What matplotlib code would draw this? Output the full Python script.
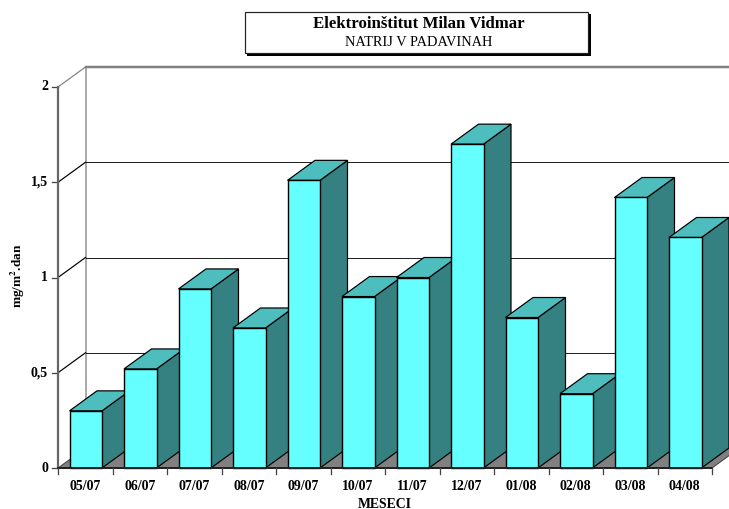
import matplotlib
matplotlib.use('Agg')
import matplotlib.pyplot as plt
from matplotlib.patches import Polygon, Rectangle

months = ['05/07', '06/07', '07/07', '08/07', '09/07', '10/07',
          '11/07', '12/07', '01/08', '02/08', '03/08', '04/08']
natrij = [0.30, 0.52, 0.94, 0.735, 1.51, 0.90, 1.00, 1.70, 0.79, 0.39, 1.42, 1.21]
y_ticks = [0, 0.5, 1, 1.5, 2]
y_labels = ['0', '0,5', '1', '1,5', '2']

plt.rcParams['font.family'] = 'Liberation Serif'
W, H = 729, 509
fig = plt.figure(figsize=(W / 100, H / 100), dpi=100, facecolor='white')
# axes box is the front plane of the 3d chart
ax = fig.add_axes([58 / W, 1 - 468 / H, (712 - 58) / W, (468 - 87) / H])
ax.set_xlim(0, 12)
ax.set_ylim(0, 2)
ax.axis('off')

# depth of the 3d effect in data units
dx = 27.5 / 54.5
dy = 20 / 190.5
x_end = (729 - 58) / 54.5
px = 0.72

# floor
ax.add_patch(Polygon([(0, 0), (12, 0), (12 + dx, dy), (dx, dy)], fc='#808080', ec='#404040',
                     lw=px, clip_on=False, zorder=1))
# back wall and grid
ax.plot([dx, dx], [dy, 2 + dy], color='#909090', lw=1.5 * px, clip_on=False, zorder=1)
for t, lab in zip(y_ticks, y_labels):
    col = '#808080' if t == 2 else '#222222'
    w = 2.5 * px if t == 2 else px
    if t > 0:
        ax.plot([dx, x_end], [t + dy, t + dy], color=col, lw=w, clip_on=False, zorder=1)
        ax.plot([0, dx], [t, t + dy], color='#808080' if t == 2 else 'black', lw=px * 1.2, clip_on=False, zorder=1)
    ax.plot([-6 / 54.5, 0], [t, t], color='#444444', lw=px * 1.3, clip_on=False, zorder=1)
    ax.text(-10 / 54.5, t, lab, ha='right', va='center', fontsize=10, fontweight='bold', zorder=5)

# bars, left to right so next bar covers the side of the previous one
bar_w = 32.5 / 54.5
bar_off = 11.5 / 54.5
for i, v in enumerate(natrij):
    x0 = i + bar_off
    x1 = x0 + bar_w
    z = 3 + i * 0.01
    ax.add_patch(Polygon([(x1, 0), (x1 + dx, dy), (x1 + dx, v + dy), (x1, v)], fc='#358080', ec='black',
                         lw=1.2 * px, clip_on=False, zorder=z))
    ax.add_patch(Polygon([(x0, v), (x1, v), (x1 + dx, v + dy), (x0 + dx, v + dy)], fc='#4DBDBD', ec='black',
                         lw=1.2 * px, clip_on=False, zorder=z))
    ax.add_patch(Rectangle((x0, 0), bar_w, v, fc='#66FFFF', ec='black', lw=1.4 * px, clip_on=False, zorder=z))
    ax.text(i + 0.5, -18.5 / 190.5, months[i], ha='center', va='center', fontsize=10, fontweight='bold')

# axes lines and x ticks
ax.plot([0, 0], [0, 2], color='#666666', lw=2.2 * px, clip_on=False, zorder=4)
ax.plot([0, 12], [0, 0], color='#222222', lw=2 * px, clip_on=False, zorder=4)
for i in range(13):
    ax.plot([i, i], [0, -6 / 190.5], color='#444444', lw=1.3 * px, clip_on=False, zorder=4)

fig.text(385 / W, 1 - 504 / H, 'MESECI', ha='center', va='center', fontsize=9.9, fontweight='bold')
fig.text(17.5 / W, 1 - 276 / H, 'mg/m$^{\\mathbf{2}}$.dan', rotation=90, ha='center', va='center', fontsize=9.5,
         fontweight='bold', math_fontfamily='stix')

# title box with shadow
fig.add_artist(Rectangle((247 / W, 1 - 56 / H), 344 / W, 42 / H, transform=fig.transFigure, fc='black', ec='black', lw=0))
fig.add_artist(Rectangle((244.5 / W, 1 - 53.5 / H), 343 / W, 41.5 / H, transform=fig.transFigure, fc='white',
                         ec='#222222', lw=1.2 * px))
fig.text(418.5 / W, 1 - 24.5 / H, 'Elektroinštitut Milan Vidmar', ha='center', va='center', fontsize=12.1,
         fontweight='bold')
fig.text(418.5 / W, 1 - 43 / H, 'NATRIJ V PADAVINAH', ha='center', va='center', fontsize=10.4)

fig.savefig('out.png', dpi=100)
